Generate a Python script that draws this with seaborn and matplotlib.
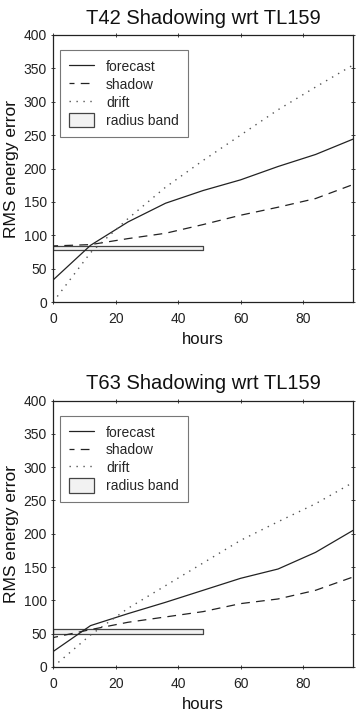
import numpy as np
import pandas as pd
import seaborn as sns
import matplotlib
matplotlib.use("Agg")
import matplotlib.pyplot as plt

# values
hours = [0, 12, 24, 36, 48, 60, 72, 84, 96]

t42_forecast = [33, 85, 120, 148, 167, 183, 203, 221, 244]
t42_shadow = [84, 86, 95, 103, 116, 130, 142, 155, 176]
t42_drift = [0, 74, 125, 172, 212, 250, 288, 322, 355]
t42_band = (78, 84)

t63_forecast = [23, 62, 80, 97, 115, 133, 147, 172, 205]
t63_shadow = [44, 56, 67, 75, 83, 95, 102, 115, 135]
t63_drift = [0, 48, 88, 122, 156, 190, 218, 245, 277]
t63_band = (49, 57)

band_hours = [0, 48]
titles = ["T42 Shadowing wrt TL159", "T63 Shadowing wrt TL159"]

sns.set_style("ticks")
plt.rcParams['font.family'] = ['Liberation Sans', 'DejaVu Sans']

fig = plt.figure(figsize=(3.61, 7.14), dpi=100)
ax1 = fig.add_axes([0.147, 0.577, 0.831, 0.374])
ax2 = fig.add_axes([0.147, 0.066, 0.831, 0.373])

panels = [
    (ax1, t42_forecast, t42_shadow, t42_drift, t42_band, titles[0]),
    (ax2, t63_forecast, t63_shadow, t63_drift, t63_band, titles[1]),
]

for ax, fc, sh, dr, band, title in panels:
    df = pd.DataFrame({"hours": hours, "forecast": fc, "shadow": sh, "drift": dr})
    sns.lineplot(data=df, x="hours", y="forecast", ax=ax, color="#222222", lw=0.9, label="forecast")
    sns.lineplot(data=df, x="hours", y="shadow", ax=ax, color="#222222", lw=0.9, label="shadow")
    ax.lines[-1].set_linestyle((3, (7, 5)))
    sns.lineplot(data=df, x="hours", y="drift", ax=ax, color="#555555", lw=1.0, label="drift")
    ax.lines[-1].set_linestyle((0, (1, 4)))
    ax.fill_between(band_hours, band[0], band[1], facecolor="#f2f2f2",
                    edgecolor="#444444", lw=0.9, label="radius band")

    ax.set_xlim(0, 96)
    ax.set_ylim(0, 400)
    ax.set_xticks([0, 20, 40, 60, 80])
    ax.set_yticks(range(0, 401, 50))
    ax.tick_params(direction="inout", top=True, right=True, length=3, width=0.6,
                   labelsize=10, colors="#222222")
    ax.tick_params(axis="x", pad=6)
    ax.tick_params(axis="y", pad=3)
    for s in ax.spines.values():
        s.set_color("#222222")
        s.set_linewidth(0.9)
    ax.set_xlabel("hours", fontsize=12, color="#111111", labelpad=4)
    ax.set_ylabel("RMS energy error", fontsize=12.5, color="#111111", labelpad=3)
    ax.set_title(title, fontsize=14.5, color="#111111", pad=8)
    leg = ax.legend(loc="upper left", fontsize=10, frameon=True, fancybox=False,
                    edgecolor="#555555", handlelength=1.8, handleheight=1.2,
                    handletextpad=0.85, borderpad=0.65, labelspacing=0.22,
                    borderaxespad=0, bbox_to_anchor=(0.024, 0.943))
    leg.get_frame().set_linewidth(0.8)

fig.savefig("out.png", dpi=100)
